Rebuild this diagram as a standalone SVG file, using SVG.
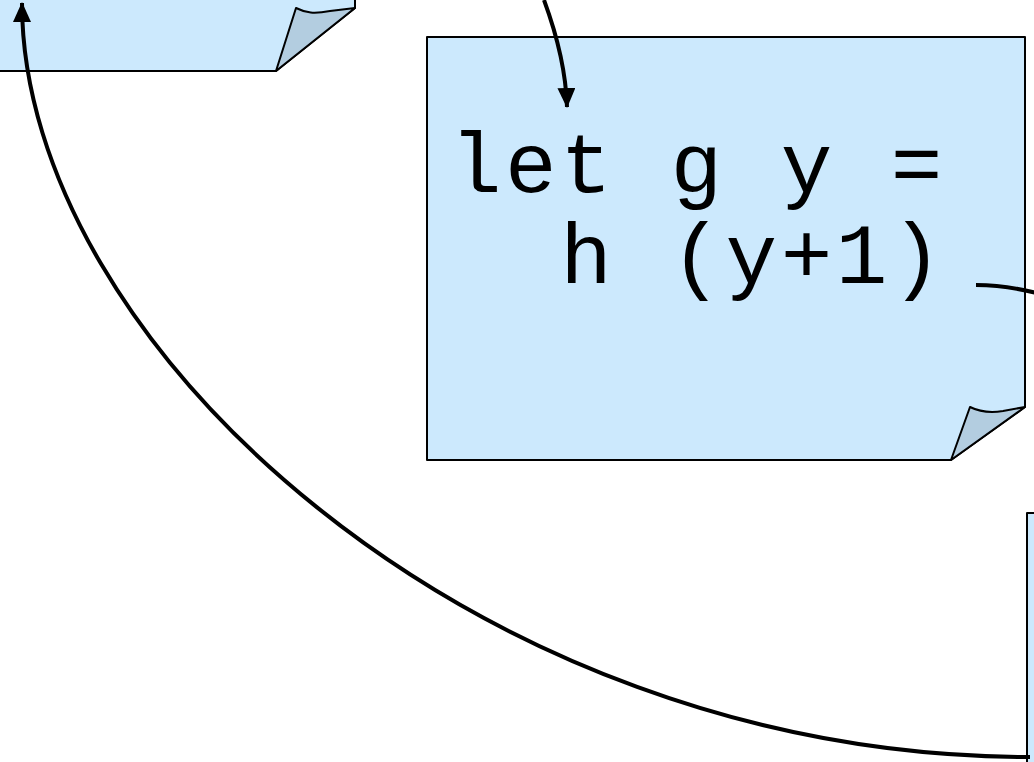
<svg xmlns="http://www.w3.org/2000/svg" width="1034" height="762" viewBox="0 0 1034 762">
<style>
.page{fill:#cce9fd;stroke:#000;stroke-width:2;stroke-linejoin:round}
.fold{fill:#b3cde0;stroke:#000;stroke-width:2;stroke-linejoin:round}
.code{font-family:"Liberation Mono","DejaVu Sans Mono",monospace;font-size:86px;letter-spacing:3.5px;fill:#000}
.conn{fill:none;stroke:#000;stroke-width:4}
</style>
<defs>
<marker id="arr" viewBox="0 0 20 18" refX="19" refY="9" markerWidth="20" markerHeight="18" orient="auto" markerUnits="userSpaceOnUse">
<path d="M0,0 L20,9 L0,18 Z" fill="#000"/>
</marker>
</defs>
<g id="note-topleft">
<path class="page" d="M-10,-20 H355 V8 L276,71 H-10 Z"/>
<path class="fold" d="M276,71 L296,8 C306,13 314,14 330,11 L355,8 Z"/>
</g>
<g id="note-middle">
<path class="page" d="M427,37 H1025 V407 L951,460 H427 Z"/>
<path class="fold" d="M951,460 L970,407 C980,412 990,413 1003,411 L1025,407 Z"/>
<text class="code" x="450" y="192" xml:space="preserve">let g y =</text>
<text class="code" x="450" y="283" xml:space="preserve">  h (y+1)</text>
</g>
<g id="note-bottomright">
<rect class="page" x="1027" y="513" width="40" height="280"/>
</g>
<g id="connectors">
<path class="conn" d="M544,0 C558,38 566,72 567,107" marker-end="url(#arr)"/>
<path class="conn" d="M976,285 C1000,285 1018,288 1040,294"/>
<path class="conn" d="M1030,757 C472,757 22,342 22,3" marker-end="url(#arr)"/>
</g>
</svg>
